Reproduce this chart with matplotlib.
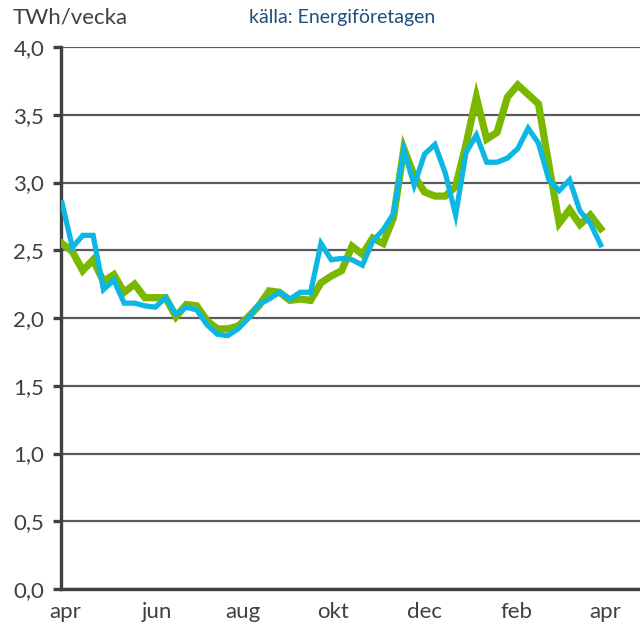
import matplotlib
matplotlib.use("Agg")
import matplotlib.pyplot as plt
import numpy as np

# weekly values, TWh/vecka
green = [2.55, 2.49, 2.35, 2.43, 2.27, 2.32, 2.19, 2.25, 2.15, 2.15,
         2.15, 2.01, 2.10, 2.09, 1.98, 1.92, 1.92, 1.94, 2.01, 2.09,
         2.20, 2.19, 2.13, 2.14, 2.13, 2.26, 2.31, 2.35, 2.53, 2.47,
         2.59, 2.55, 2.74, 3.25, 3.05, 2.93, 2.90, 2.90, 2.97, 3.28,
         3.63, 3.32, 3.37, 3.63, 3.72, 3.65, 3.58, 3.13, 2.70, 2.80,
         2.69, 2.76, 2.66]
blue = [2.85, 2.52, 2.61, 2.61, 2.21, 2.28, 2.11, 2.11, 2.09, 2.08,
        2.15, 2.03, 2.08, 2.06, 1.95, 1.88, 1.87, 1.92, 2.00, 2.10,
        2.14, 2.19, 2.14, 2.19, 2.19, 2.55, 2.43, 2.44, 2.43, 2.39,
        2.57, 2.65, 2.77, 3.24, 2.98, 3.21, 3.28, 3.07, 2.76, 3.22,
        3.35, 3.15, 3.15, 3.18, 3.25, 3.40, 3.29, 3.02, 2.94, 3.02,
        2.79, 2.70, 2.54]
month_labels = ["apr", "jun", "aug", "okt", "dec", "feb", "apr"]
month_pos = [0.3, 9.2, 17.5, 26.2, 35.0, 43.9, 52.4]

plt.rcParams['font.family'] = ['Lato', 'DejaVu Sans']

fig = plt.figure(figsize=(6.4, 6.32), dpi=100)
ax = fig.add_axes([0.0953, 0.068, 0.9047, 0.8576])

weeks = np.arange(len(green))
ax.plot(weeks, green, color="#7AB800", lw=5.2, solid_joinstyle="miter", zorder=3)
ax.plot(weeks, blue, color="#0DB7E4", lw=3.8, solid_joinstyle="miter", zorder=4)

ax.set_ylim(0, 4.0)
ax.set_xlim(-0.1, 55.8)
ax.set_yticks(np.arange(0, 4.01, 0.5))
ax.set_yticklabels([f"{v:.1f}".replace(".", ",") for v in np.arange(0, 4.01, 0.5)])
ax.set_xticks(month_pos)
ax.set_xticklabels(month_labels)

ax.grid(axis="y", color="#5a5a5a", lw=1.6)
ax.set_axisbelow(True)
for s in ["top", "right"]:
    ax.spines[s].set_visible(False)
for s in ["left", "bottom"]:
    ax.spines[s].set_color("#404040")
    ax.spines[s].set_linewidth(2.4)
ax.tick_params(axis="y", length=6, width=2.4, color="#404040", labelsize=16,
               labelcolor="#404040", pad=6)
ax.tick_params(axis="x", length=0, labelsize=16, labelcolor="#404040", pad=9)

fig.text(0.019, 0.973, "TWh/vecka", fontsize=16, color="#404040", va="center")
fig.text(0.389, 0.973, "källa: Energiföretagen", fontsize=14, color="#1F4E79", va="center")

fig.savefig("out.png", dpi=100)
